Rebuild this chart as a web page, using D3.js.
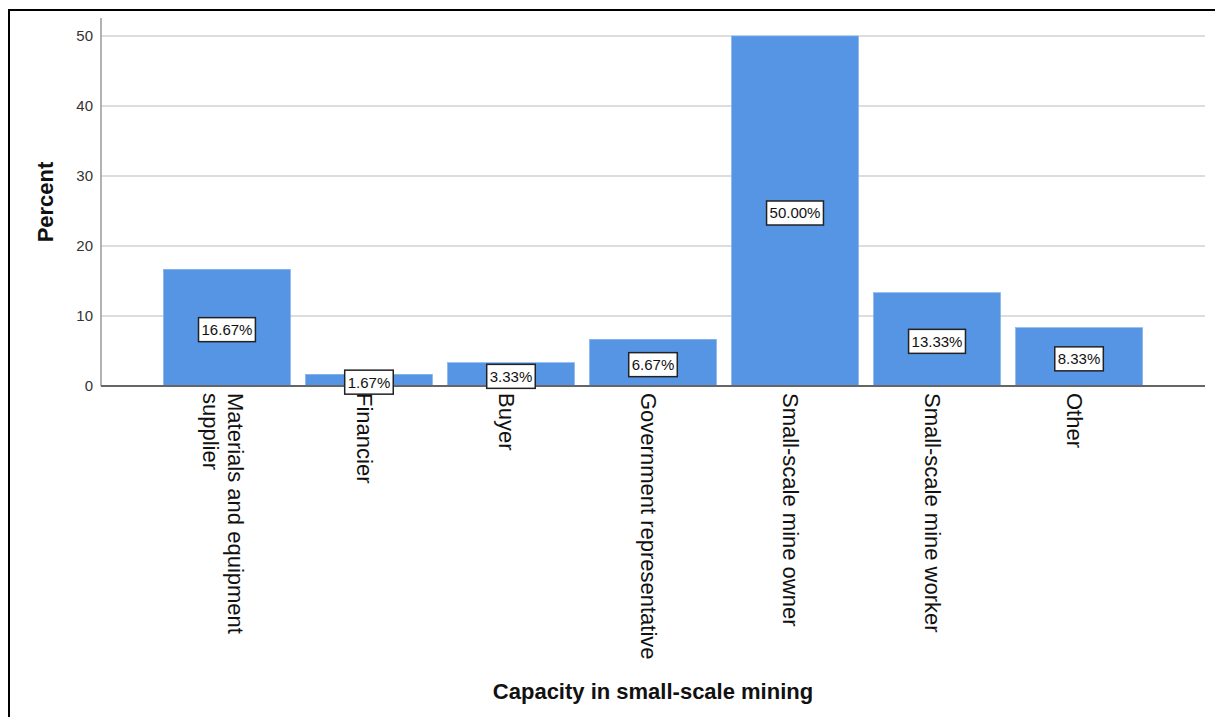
<!DOCTYPE html>
<html>
<head>
<meta charset="utf-8">
<script src="https://cdn.jsdelivr.net/npm/d3@7"></script>
<style>
  body { margin: 0; background: #fff; }
  text { font-family: "Liberation Sans", Arial, sans-serif; }
</style>
</head>
<body>
<svg id="chart" width="1215" height="717"></svg>
<script>
var categories = [
    ["Materials and equipment", "supplier"],
    ["Financier"],
    ["Buyer"],
    ["Government representative"],
    ["Small-scale mine owner"],
    ["Small-scale mine worker"],
    ["Other"]
];
var percents = [16.67, 1.67, 3.33, 6.67, 50.00, 13.33, 8.33];
var yTicks = [0, 10, 20, 30, 40, 50];

var svg = d3.select("#chart");

// outer frame
svg.append("rect")
    .attr("x", 9)
    .attr("y", 10)
    .attr("width", 1220)
    .attr("height", 720)
    .attr("fill", "none")
    .attr("stroke", "#000")
    .attr("stroke-width", 2);

let x = d3.scaleBand()
    .domain(d3.range(categories.length))
    .range([101, 1205])
    .paddingInner(0.106)
    .paddingOuter(0.44);

let y = d3.scaleLinear()
    .domain([0, 50])
    .range([386, 36]);

// gridlines
svg.selectAll(".grid")
    .data(yTicks.filter(function(d) { return d > 0; }))
    .enter().append("line")
    .attr("class", "grid")
    .attr("x1", 101)
    .attr("x2", 1205)
    .attr("y1", function(d) { return y(d); })
    .attr("y2", function(d) { return y(d); })
    .attr("stroke", "#d2d2d2")
    .attr("stroke-width", 1.5);

// y axis
let yAxis = svg.append("g")
    .attr("transform", "translate(101,0)")
    .call(d3.axisLeft(y).tickValues(yTicks).tickSize(0).tickPadding(8));
yAxis.select(".domain").remove();
yAxis.selectAll("text")
    .attr("font-size", 15)
    .attr("fill", "#333")
    .style("font-family", "'Liberation Sans', Arial, sans-serif");

svg.append("line")
    .attr("x1", 101).attr("x2", 101)
    .attr("y1", 18).attr("y2", 386)
    .attr("stroke", "#999")
    .attr("stroke-width", 1.5);

// bars
svg.selectAll(".bar")
    .data(percents)
    .enter().append("rect")
    .attr("class", "bar")
    .attr("x", function(d, i) { return x(i); })
    .attr("y", function(d) { return y(d); })
    .attr("width", x.bandwidth())
    .attr("height", function(d) { return y(0) - y(d); })
    .attr("fill", "#5595e3")
    .attr("stroke", "#7fb0ee")
    .attr("stroke-width", 0.6);

// baseline
svg.append("line")
    .attr("x1", 101).attr("x2", 1205)
    .attr("y1", 386).attr("y2", 386)
    .attr("stroke", "#666")
    .attr("stroke-width", 2);

// value labels
let labels = svg.selectAll(".vlabel")
    .data(percents)
    .enter().append("g")
    .attr("class", "vlabel")
    .attr("transform", function(d, i) {
        return "translate(" + (x(i) + x.bandwidth() / 2) + "," + ((y(d) + y(0)) / 2 + 2) + ")";
    });

labels.append("text")
    .attr("text-anchor", "middle")
    .attr("dy", "0.36em")
    .attr("font-size", 15)
    .attr("fill", "#111")
    .text(function(d) { return d.toFixed(2) + "%"; })
    .each(function() {
        let bb = this.getBBox();
        d3.select(this.parentNode).insert("rect", "text")
            .attr("x", bb.x - 3)
            .attr("y", -12)
            .attr("width", bb.width + 6)
            .attr("height", 24)
            .attr("fill", "#fff")
            .attr("stroke", "#222")
            .attr("stroke-width", 1.5);
    });

// category labels, rotated
let cat = svg.selectAll(".cat")
    .data(categories)
    .enter().append("text")
    .attr("class", "cat")
    .attr("font-size", 22)
    .attr("fill", "#111")
    .attr("transform", function(d, i) {
        return "translate(" + (x(i) + x.bandwidth() / 2 - 4) + ",393) rotate(90)";
    });

cat.each(function(d) {
    let t = d3.select(this);
    let n = d.length;
    d.forEach(function(line, k) {
        t.append("tspan")
            .attr("x", 0)
            .attr("y", (k - (n - 1) / 2) * 25)
            .attr("dy", "0.35em")
            .text(line);
    });
});

// axis titles
svg.append("text")
    .attr("transform", "translate(45,202) rotate(-90)")
    .attr("text-anchor", "middle")
    .attr("dy", "0.35em")
    .attr("font-size", 22)
    .attr("font-weight", "bold")
    .attr("fill", "#111")
    .text("Percent");

svg.append("text")
    .attr("x", 653)
    .attr("y", 691)
    .attr("text-anchor", "middle")
    .attr("dy", "0.35em")
    .attr("font-size", 22)
    .attr("font-weight", "bold")
    .attr("fill", "#111")
    .text("Capacity in small-scale mining");
</script>
</body>
</html>
